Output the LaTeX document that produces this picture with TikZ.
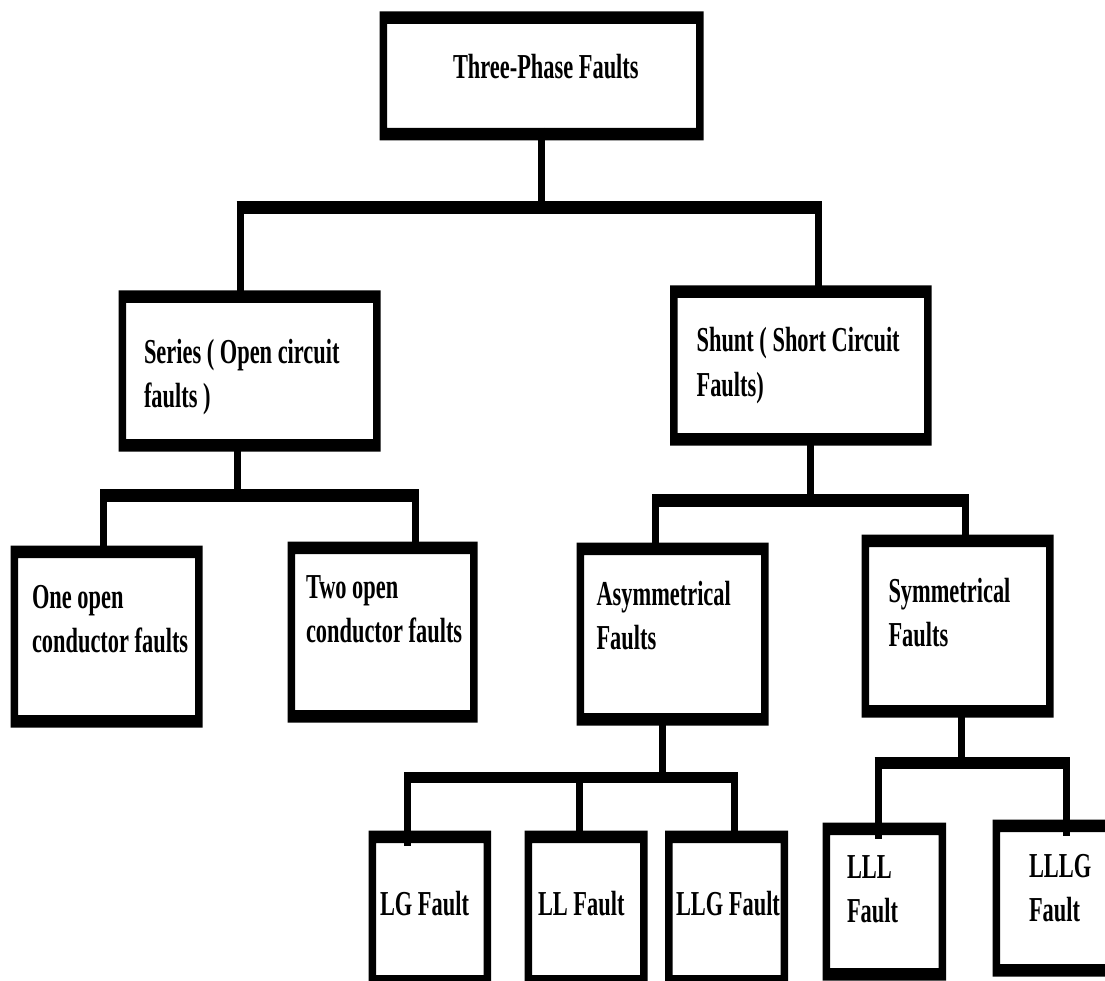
\documentclass[tikz,border=0pt]{standalone}
\usepackage{fontspec}
\newfontfamily\lblfont{Liberation Serif}[FakeStretch=0.64]
\usetikzlibrary{calc}
% two-line label whose baseline is the first line's baseline
\newcommand\twoline[2]{\vtop{\baselineskip=44pt\hbox{#1}\hbox{#2}}}
% thick black frame around a box node (thicker top/bottom than sides)
\newcommand\thickframe[1]{%
  \fill[black,even odd rule]
    ($(#1.north west)+(-7.5,-12.5)$) rectangle ($(#1.south east)+(7.5,12.5)$)
    (#1.north west) rectangle (#1.south east);}
\begin{document}
\begin{tikzpicture}[x=1pt,y=-1pt,
  box/.style={fill=white,draw=none,inner sep=0pt,outer sep=0pt,anchor=north west},
  lbl/.style={anchor=base west,inner sep=0pt,outer sep=0pt,
    font=\lblfont\bfseries\fontsize{35}{44}\selectfont},
  drop/.style={line width=7pt},
  bus/.style={line width=12.5pt}]
\useasboundingbox (0,0) rectangle (1105,981);
\fill[white] (0,0) rectangle (1105,981);
\clip (0,0) rectangle (1105,981);

% ---- boxes (inner white areas) ----
\node[box,minimum width=309,minimum height=104] (top)    at (387,24)    {};
\node[box,minimum width=247,minimum height=136] (series) at (126,303)   {};
\node[box,minimum width=246.5,minimum height=135] (shunt) at (677.5,298) {};
\node[box,minimum width=177,minimum height=157] (oneopen) at (18,558)   {};
\node[box,minimum width=175,minimum height=156] (twoopen) at (295,554)  {};
\node[box,minimum width=177,minimum height=158] (asym)   at (584,555)   {};
\node[box,minimum width=177,minimum height=158] (sym)    at (869,547)   {};
\node[box,minimum width=107.5,minimum height=132] (lg)   at (376,843)   {};
\node[box,minimum width=108,minimum height=132] (ll)     at (532,843)   {};
\node[box,minimum width=108,minimum height=132] (llg)    at (672.6,843) {};
\node[box,minimum width=108.6,minimum height=133] (lll)  at (830,835)   {};
\node[box,minimum width=120,minimum height=132] (lllg)   at (1000,832)  {};

\foreach \n in {top,series,shunt,oneopen,twoopen,asym,sym,lg,ll,llg,lll,lllg}
  {\thickframe{\n}}

% ---- junction points on the buses ----
\coordinate (a0) at (541.7,207.4); \coordinate (a1) at (240,207.4); \coordinate (a2) at (818,207.4);
\coordinate (b0) at (237,495);     \coordinate (b1) at (103.5,495); \coordinate (b2) at (415,495);
\coordinate (c0) at (810,500);     \coordinate (c1) at (655.6,500); \coordinate (c2) at (965,500);
\coordinate (d0) at (662.5,777.5); \coordinate (d1) at (407.5,777.5); \coordinate (d2) at (579.5,777.5); \coordinate (d3) at (734,777.5);
\coordinate (e0) at (961,763);     \coordinate (e1) at (878,763);   \coordinate (e2) at (1066,763);

% ---- connectors ----
\draw[bus] ([xshift=-3.5pt]a1) -- ([xshift=3.5pt]a2);
\draw[drop] (a0 |- top.south) -- (a0);
\draw[drop] (a1) -- (a1 |- series.north);
\draw[drop] (a2) -- (a2 |- shunt.north);

\draw[bus,line width=13pt] ([xshift=-3.5pt]b1) -- ([xshift=3.5pt]b2);
\draw[drop] (b0 |- series.south) -- (b0);
\draw[drop] (b1) -- (b1 |- oneopen.north);
\draw[drop] (b2) -- (b2 |- twoopen.north);

\draw[bus,line width=13pt] ([xshift=-3.5pt]c1) -- ([xshift=3.5pt]c2);
\draw[drop] (c0 |- shunt.south) -- (c0);
\draw[drop] (c1) -- (c1 |- asym.north);
\draw[drop] (c2) -- (c2 |- sym.north);

\draw[bus,line width=11pt] ([xshift=-3.5pt]d1) -- ([xshift=3.5pt]d3);
\draw[drop] (d0 |- asym.south) -- (d0);
\draw[drop] (d1) -- ([yshift=-3pt]d1 |- lg.north);
\draw[drop] (d2) -- (d2 |- ll.north);
\draw[drop] (d3) -- (d3 |- llg.north);

\draw[bus] ([xshift=-3.5pt]e1) -- ([xshift=3.5pt]e2);
\draw[drop] (e0 |- sym.south) -- (e0);
\draw[drop] (e1) -- ([yshift=-4pt]e1 |- lll.north);
\draw[drop] (e2) -- ([yshift=-4pt]e2 |- lllg.north);

% ---- labels ----
\node[lbl] (t-top)    at (453,79)    {Three-Phase Faults};
\node[lbl] (t-series) at (144,363)   {\twoline{Series ( Open circuit}{faults )}};
\node[lbl] (t-shunt)  at (696.6,352) {\twoline{Shunt ( Short Circuit}{Faults)}};
\node[lbl] (t-one)    at (32,608)    {\twoline{One open}{conductor faults}};
\node[lbl] (t-two)    at (306,598)   {\twoline{Two open}{conductor faults}};
\node[lbl] (t-asym)   at (596.5,605) {\twoline{Asymmetrical}{Faults}};
\node[lbl] (t-sym)    at (888.5,602) {\twoline{Symmetrical}{Faults}};
\node[lbl] (t-lg)     at (380,915)   {LG Fault};
\node[lbl] (t-ll)     at (538,915)   {LL Fault};
\node[lbl] (t-llg)    at (676,915)   {LLG Fault};
\node[lbl] (t-lll)    at (847,878)   {\twoline{LLL}{Fault}};
\node[lbl] (t-lllg)   at (1029,877)  {\twoline{LLLG}{Fault}};
\end{tikzpicture}
\end{document}
